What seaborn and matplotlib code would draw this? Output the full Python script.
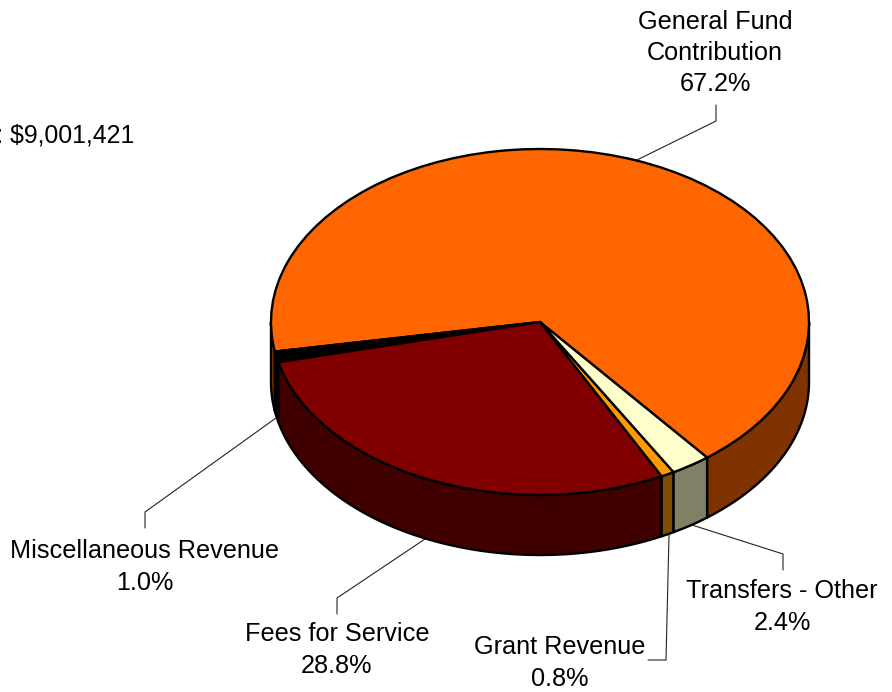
import numpy as np
import matplotlib
matplotlib.use("Agg")
import matplotlib.pyplot as plt
import seaborn as sns

categories = ["General Fund\nContribution", "Miscellaneous Revenue", "Fees for Service",
              "Grant Revenue", "Transfers - Other"]
shares = [67.2, 1.0, 28.8, 0.8, 2.4]
total_text = "Total: $9,001,421"

top_colors = ["#FF6600", "#000000", "#800000", "#FF9900", "#FFFFCC"]
side_colors = ["#803300", "#000000", "#400000", "#804C00", "#808066"]

WIDTH, HEIGHT = 892, 692
CX, CY, RX, RY, DEPTH = 540, 322, 269, 173, 60
START_ANGLE = -51.6


def to_pie(px, py):
    """Pixel position in the picture -> pie units"""
    return (px - CX) / RX, (CY - py) / RY


def draw_sides(ax, shares, colors):
    """Draws the visible outer wall of every wedge"""
    drop = DEPTH / RY
    edges = START_ANGLE + np.concatenate([[0], np.cumsum(shares)]) / np.sum(shares) * 360
    for start, end, color in zip(edges[:-1], edges[1:], colors):
        # only the front half of the cylinder can be seen
        for front_lo, front_hi in [(-180, 0), (180, 360)]:
            a, b = max(start, front_lo), min(end, front_hi)
            if b <= a:
                continue
            t = np.radians(np.linspace(a, b, 80))
            xs = np.concatenate([np.cos(t), np.cos(t[::-1])])
            ys = np.concatenate([np.sin(t), np.sin(t[::-1]) - drop])
            ax.fill(xs, ys, facecolor=color, edgecolor="black", linewidth=1.7,
                    joinstyle="round", zorder=1)


def add_label(ax, text, px, py, ha="center", size=18.2):
    x, y = to_pie(px, py)
    ax.text(x, y, text, ha=ha, va="center", fontsize=size, color="black",
            linespacing=1.38, zorder=5)


def add_leader(ax, points):
    xs, ys = zip(*[to_pie(px, py) for px, py in points])
    ax.plot(xs, ys, color="#222222", linewidth=0.8, zorder=0.5)


def main():
    sns.set_theme(style="white")
    plt.rcParams["font.family"] = ["Liberation Sans", "DejaVu Sans"]

    fig = plt.figure(figsize=(WIDTH / 100, HEIGHT / 100), dpi=100)
    ax = fig.add_axes([0, 0, 1, 1])

    draw_sides(ax, shares, side_colors)
    wedges, _ = ax.pie(shares, colors=top_colors, startangle=START_ANGLE, radius=1,
                       wedgeprops={"edgecolor": "black", "linewidth": 1.7})
    for w in wedges:
        w.set_zorder(2)

    # pie() forces equal aspect, the tilted look comes from unequal scales
    ax.set_aspect("auto")
    ax.set_xlim(*[to_pie(p, 0)[0] for p in (0, WIDTH)])
    ax.set_ylim(to_pie(0, HEIGHT)[1], to_pie(0, 0)[1])
    ax.axis("off")

    add_leader(ax, [(637, 160), (716, 121), (716, 105)])
    add_leader(ax, [(276, 418), (145, 512), (145, 528)])
    add_leader(ax, [(428, 537), (337, 598), (337, 614)])
    add_leader(ax, [(669, 535), (666, 660), (648, 660)])
    add_leader(ax, [(692, 525), (783, 554), (783, 570)])

    label_spots = [(715, 53), (145, 567), (337, 650), (560, 663), (782, 607)]
    for name, value, (px, py) in zip(categories, shares, label_spots):
        add_label(ax, f"{name}\n{value:.1f}%", px, py)

    add_label(ax, total_text, 134, 136, ha="right", size=17.9)

    fig.savefig("out.png", dpi=100, facecolor="white")
    plt.close(fig)


if __name__ == "__main__":
    main()
